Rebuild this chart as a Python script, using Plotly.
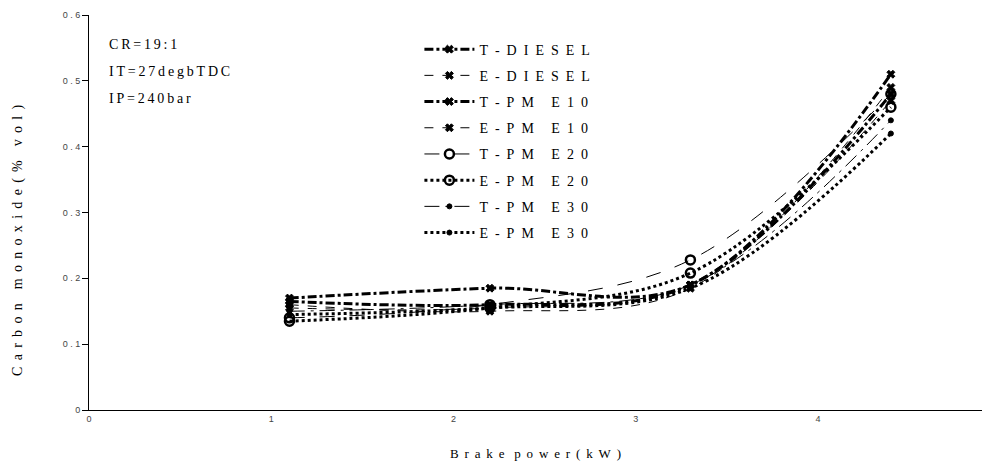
import plotly.graph_objects as go

brake_power = [1.1, 2.2, 3.3, 4.4]
series_names = ["T-DIESEL", "E-DIESEL", "T-PM E10", "E-PM E10",
                "T-PM E20", "E-PM E20", "T-PM E30", "E-PM E30"]
t_diesel = [0.170, 0.185, 0.190, 0.510]
e_diesel = [0.160, 0.150, 0.185, 0.490]
t_pm_e10 = [0.165, 0.160, 0.190, 0.480]
e_pm_e10 = [0.155, 0.155, 0.190, 0.470]
t_pm_e20 = [0.140, 0.160, 0.228, 0.480]
e_pm_e20 = [0.135, 0.155, 0.208, 0.460]
t_pm_e30 = [0.150, 0.160, 0.190, 0.440]
e_pm_e30 = [0.145, 0.155, 0.185, 0.420]
values = [t_diesel, e_diesel, t_pm_e10, e_pm_e10, t_pm_e20, e_pm_e20, t_pm_e30, e_pm_e30]

y_ticks = [0, 0.1, 0.2, 0.3, 0.4, 0.5, 0.6]
y_ticktext = ["0", "0 . 1", "0 . 2", "0 . 3", "0 . 4", "0 . 5", "0 . 6"]
x_ticks = [0, 1, 2, 3, 4]
x_ticktext = ["0", "1", "2", "3", "4"]

NB = "\u00a0"
EN = "\u2002"
ZW = "\u200b"
TH = "\u2009"


def spaced(s, gap=NB, word=NB):
    return word.join(gap.join(w) for w in s.split(" "))


styles = [
    dict(dash="dashdot", width=3, symbol="x", size=7),
    dict(dash="dash", width=1, symbol="x", size=7),
    dict(dash="dashdot", width=3, symbol="x", size=7),
    dict(dash="dash", width=1, symbol="x", size=7),
    dict(dash="longdash", width=1, symbol="circle-open", size=9),
    dict(dash="dot", width=3, symbol="circle-open", size=9),
    dict(dash="longdashdot", width=1, symbol="circle", size=5),
    dict(dash="dot", width=3, symbol="circle", size=5),
]

fig = go.Figure()
for name, vals, st in zip(series_names, values, styles):
    fig.add_trace(go.Scatter(
        x=brake_power, y=vals, name=spaced(name, EN, EN + ZW + NB + ZW + EN),
        legendgroup=name, mode="lines+markers",
        line=dict(color="black", width=st["width"], dash=st["dash"], shape="spline"),
        marker=dict(symbol=st["symbol"], size=st["size"], color="black",
                    line=dict(color="black", width=2.5 if "open" in st["symbol"] else 1)),
    ))

serif = "Liberation Serif, Times New Roman, serif"
fig.update_layout(
    width=993, height=464,
    margin=dict(l=89, r=11, t=15, b=54),
    plot_bgcolor="white", paper_bgcolor="white",
    showlegend=True,
    legend=dict(x=0.37, y=0.953, xanchor="left", yanchor="top",
                font=dict(family=serif, size=14, color="black"),
                bgcolor="rgba(0,0,0,0)", itemwidth=50, tracegroupgap=5),
    xaxis=dict(range=[0, 4.9], tickvals=x_ticks, ticktext=x_ticktext, automargin=False,
               showgrid=False, zeroline=False, showline=True, linecolor="black",
               linewidth=1, ticks="outside", ticklen=0,
               tickfont=dict(family="Liberation Sans, Arial, sans-serif", size=9, color="#444"),
               title=dict(text=spaced("Brake power(kW)", NB + ZW + TH, EN + ZW + NB),
                          font=dict(family=serif, size=13, color="black"), standoff=26)),
    yaxis=dict(range=[0, 0.6], tickvals=y_ticks, ticktext=y_ticktext, automargin=False,
               showgrid=False, zeroline=False, showline=True, linecolor="black",
               linewidth=1, ticks="outside", ticklen=6, tickcolor="black",
               tickfont=dict(family="Liberation Sans, Arial, sans-serif", size=9, color="#444")),
)

plot_w = 993 - 89 - 11
plot_h = 464 - 15 - 54


def px_x(px):
    return (px - 89) / plot_w


def px_y(py):
    return 1 - (py - 15) / plot_h


# y axis title placed as rotated annotation
fig.add_annotation(x=px_x(18), y=px_y(240), xref="paper", yref="paper",
                   text=spaced("Carbon monoxide(% vol)", NB + ZW + TH, EN + ZW + EN),
                   textangle=-90, showarrow=False, xanchor="center", yanchor="middle",
                   font=dict(family=serif, size=14, color="black"))

notes = ["CR=19:1", "IT=27degbTDC", "IP=240bar"]
for i, t in enumerate(notes):
    fig.add_annotation(x=px_x(107), y=px_y(45 + i * 26.5),
                       xref="paper", yref="paper", text=spaced(t, TH, TH),
                       showarrow=False, xanchor="left", yanchor="middle",
                       font=dict(family=serif, size=14, color="black"))

fig.write_html("out.html")
